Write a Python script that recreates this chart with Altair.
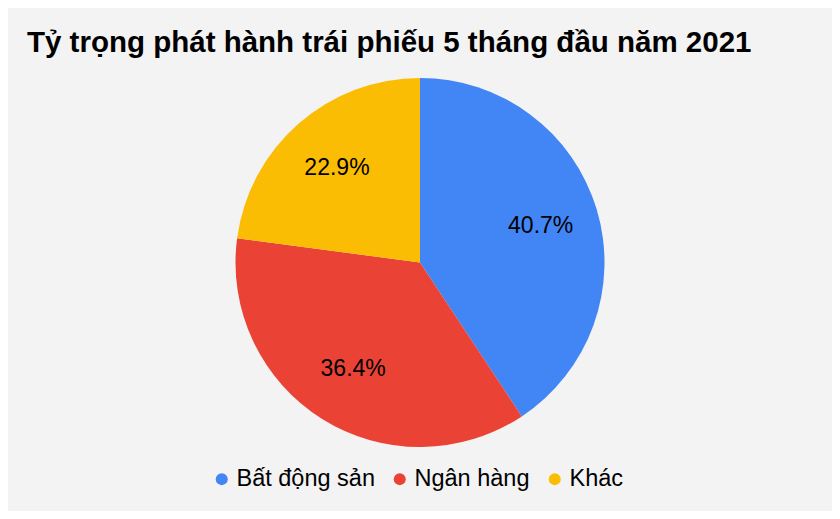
import altair as alt
import pandas as pd

categories = ["Bất động sản", "Ngân hàng", "Khác"]
shares = [40.7, 36.4, 22.9]
labels = ["40.7%", "36.4%", "22.9%"]
colors = ["#4285f4", "#ea4335", "#fbbc04"]
title_text = "Tỷ trọng phát hành trái phiếu 5 tháng đầu năm 2021"

df = pd.DataFrame({"cat": categories, "share": shares, "label": labels, "idx": list(range(len(categories)))})
tdf = pd.DataFrame({"t": [title_text]})

FONT = "Liberation Sans"
CX, CY = 412, 254.5

base = alt.Chart(df).encode(
    theta=alt.Theta("share:Q", stack=True),
    order=alt.Order("idx:Q"),
    x=alt.value(CX),
    y=alt.value(CY),
)

pie = base.mark_arc(radius=184.5, stroke=None).encode(
    color=alt.Color(
        "cat:N",
        scale=alt.Scale(domain=categories, range=colors),
        legend=alt.Legend(
            orient="none",
            legendX=202,
            legendY=459,
            direction="horizontal",
            columns=3,
            title=None,
            symbolType="circle",
            symbolSize=144,
            symbolStrokeWidth=0,
            labelFontSize=23.5,
            labelFont=FONT,
            labelColor="#000000",
            labelOffset=3,
            columnPadding=13,
            padding=0,
            labelLimit=400,
        ),
    )
)

text = base.mark_text(radius=126, fontSize=23, font=FONT, color="#000000", align="center", baseline="middle").encode(
    text="label:N"
)

title = alt.Chart(tdf).mark_text(
    align="left", baseline="alphabetic", fontSize=29.5, fontWeight="bold", font=FONT, color="#000000"
).encode(text="t:N", x=alt.value(19), y=alt.value(44))

chart = (pie + text + title).properties(
    width=824,
    height=503,
    background="#f3f3f3",
    padding=0,
    autosize=alt.AutoSizeParams(type="none"),
).configure_view(stroke=None)

chart.save("out.html", embed_options={"renderer": "svg", "actions": False})
